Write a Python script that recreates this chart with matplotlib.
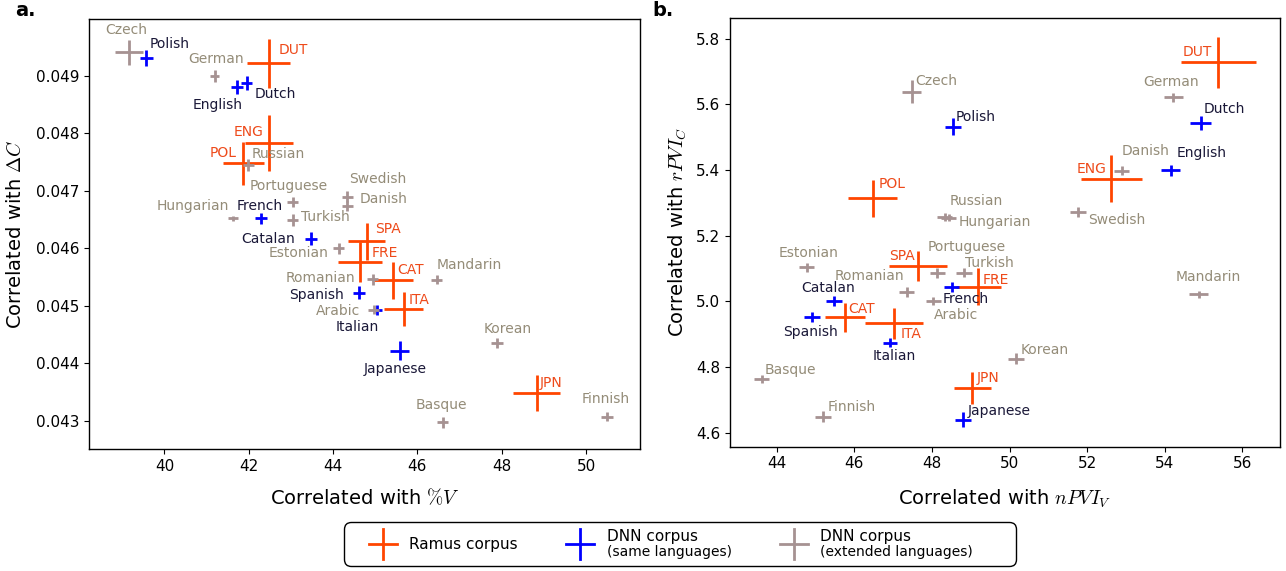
import matplotlib
matplotlib.use("Agg")
import matplotlib.pyplot as plt
from matplotlib.lines import Line2D
from matplotlib.offsetbox import AnchoredOffsetbox, HPacker, VPacker, TextArea, DrawingArea

# --- colours ---
RED = "#ff4500"
BLUE = "#0000ff"
GREY = "#a69292"
RED_TXT = "#ee4a1a"
BLUE_TXT = "#1a1838"
GREY_TXT = "#948c78"

# --- language lists (same order in both panels) ---
ramus_langs = ["DUT", "ENG", "POL", "SPA", "FRE", "CAT", "ITA", "JPN"]
same_langs = ["Polish", "English", "Dutch", "French", "Catalan", "Spanish", "Italian", "Japanese"]
ext_langs = ["Czech", "German", "Russian", "Portuguese", "Swedish", "Danish", "Hungarian",
             "Turkish", "Estonian", "Romanian", "Mandarin", "Arabic", "Korean", "Basque", "Finnish"]

# --- panel a: %V vs delta C ---
a_ramus_x = [42.47, 42.48, 41.87, 44.80, 44.64, 45.43, 45.67, 48.83]
a_ramus_y = [0.04922, 0.04783, 0.04748, 0.04612, 0.04576, 0.04544, 0.04494, 0.04348]
a_ramus_xerr = [0.51, 0.58, 0.49, 0.435, 0.53, 0.47, 0.47, 0.56]
a_ramus_yerr = [0.000426, 0.000493, 0.000377, 0.000328, 0.000348, 0.000322, 0.000296, 0.00032]

a_same_x = [39.57, 41.73, 41.95, 42.29, 43.47, 44.62, 45.05, 45.58]
a_same_y = [0.04931, 0.04881, 0.04888, 0.04652, 0.04617, 0.04523, 0.04493, 0.04422]
a_same_xerr = [0.15, 0.14, 0.13, 0.14, 0.14, 0.14, 0.11, 0.22]
a_same_yerr = [0.00014, 0.00012, 0.00012, 0.0001, 0.00012, 0.00011, 0.00009, 0.00016]

a_ext_x = [39.15, 41.19, 41.99, 43.04, 44.33, 44.33, 41.62, 43.04, 44.13, 44.94, 46.46, 44.96,
           47.89, 46.60, 50.50]
a_ext_y = [0.04941, 0.04900, 0.04745, 0.04681, 0.04690, 0.04674, 0.04652, 0.04649, 0.04600,
           0.04546, 0.04545, 0.04493, 0.04435, 0.04297, 0.04307]
a_ext_xerr = [0.33, 0.11, 0.13, 0.13, 0.13, 0.13, 0.12, 0.13, 0.13, 0.13, 0.13, 0.13, 0.14, 0.13, 0.15]
a_ext_yerr = [0.00022, 0.0001, 0.0001, 0.00009, 0.00009, 0.00009, 0.00004, 0.0001, 0.0001,
              0.0001, 0.00008, 0.00008, 0.00008, 0.0001, 0.00008]

# --- panel b: nPVI_V vs rPVI_C ---
b_ramus_x = [55.38, 52.62, 46.47, 47.64, 49.20, 45.76, 47.02, 49.04]
b_ramus_y = [5.728, 5.374, 5.314, 5.108, 5.045, 4.951, 4.933, 4.735]
b_ramus_xerr = [0.97, 0.78, 0.63, 0.74, 0.59, 0.51, 0.74, 0.48]
b_ramus_yerr = [0.078, 0.072, 0.056, 0.046, 0.055, 0.044, 0.048, 0.049]

b_same_x = [48.54, 54.15, 54.93, 48.51, 45.48, 44.91, 46.92, 48.80]
b_same_y = [5.532, 5.399, 5.544, 5.043, 5.002, 4.952, 4.874, 4.639]
b_same_xerr = [0.2, 0.24, 0.27, 0.19, 0.2, 0.2, 0.18, 0.2]
b_same_yerr = [0.025, 0.017, 0.021, 0.015, 0.015, 0.015, 0.014, 0.023]

b_ext_x = [47.48, 54.22, 48.33, 48.14, 51.76, 52.89, 48.43, 48.83, 44.77, 47.35, 54.87, 48.04,
           50.16, 43.61, 45.20]
b_ext_y = [5.639, 5.622, 5.258, 5.087, 5.273, 5.398, 5.255, 5.087, 5.103, 5.029, 5.021, 5.001,
           4.825, 4.763, 4.648]
b_ext_xerr = [0.24, 0.24, 0.2, 0.2, 0.2, 0.2, 0.2, 0.2, 0.2, 0.2, 0.24, 0.2, 0.2, 0.2, 0.2]
b_ext_yerr = [0.036, 0.014, 0.012, 0.015, 0.015, 0.014, 0.01, 0.014, 0.015, 0.016, 0.01, 0.013,
              0.017, 0.012, 0.017]

# label placement: name -> (dx px, dy px, ha)
a_offsets = {
    "DUT": (10, 13, "left"), "ENG": (-6, 11, "right"), "POL": (-7, 10, "right"),
    "SPA": (8, 12, "left"), "FRE": (12, 9, "left"), "CAT": (4, 10, "left"),
    "ITA": (5, 9, "left"), "JPN": (3, 10, "left"),
    "Polish": (3, 14, "left"), "English": (-20, -18, "center"), "Dutch": (8, -11, "left"),
    "French": (-1, 12, "center"), "Catalan": (-16, 0, "right"), "Spanish": (-15, -2, "right"),
    "Italian": (-20, -17, "center"), "Japanese": (-5, -18, "center"),
    "Czech": (-2, 22, "center"), "German": (1, 17, "center"), "Russian": (3, 11, "left"),
    "Portuguese": (-4, 16, "center"), "Swedish": (2, 18, "left"), "Danish": (13, 7, "left"),
    "Hungarian": (-4, 12, "right"), "Turkish": (8, 3, "left"), "Estonian": (-10, -5, "right"),
    "Romanian": (-17, 1, "right"), "Mandarin": (0, 15, "left"), "Arabic": (-13, -1, "right"),
    "Korean": (11, 14, "center"), "Basque": (-1, 17, "center"), "Finnish": (-1, 18, "center"),
}
b_offsets = {
    "DUT": (-6, 10, "right"), "ENG": (-5, 10, "right"), "POL": (6, 14, "left"),
    "SPA": (-3, 10, "right"), "FRE": (4, 7, "left"), "CAT": (3, 8, "left"),
    "ITA": (7, -11, "left"), "JPN": (4, 10, "left"),
    "Polish": (3, 10, "left"), "English": (6, 17, "left"), "Dutch": (3, 14, "left"),
    "French": (-9, -12, "left"), "Catalan": (-6, 13, "center"), "Spanish": (-1, -15, "center"),
    "Italian": (4, -13, "center"), "Japanese": (5, 9, "left"),
    "Czech": (4, 11, "left"), "German": (-2, 15, "center"), "Russian": (5, 16, "left"),
    "Portuguese": (-10, 26, "left"), "Swedish": (10, -8, "left"), "Danish": (0, 20, "left"),
    "Hungarian": (10, -4, "left"), "Turkish": (1, 10, "left"), "Estonian": (2, 14, "center"),
    "Romanian": (-2, 16, "right"), "Mandarin": (10, 17, "center"), "Arabic": (0, -14, "left"),
    "Korean": (5, 9, "left"), "Basque": (3, 9, "left"), "Finnish": (4, 10, "left"),
}

plt.rcParams["mathtext.fontset"] = "cm"
plt.rcParams["font.family"] = "DejaVu Sans"

fig = plt.figure(figsize=(12.86, 5.71), dpi=100)
ax_a = fig.add_axes([0.0692, 0.2137, 0.4285, 0.7526])
ax_b = fig.add_axes([0.5677, 0.2177, 0.4277, 0.7513])


def draw_group(ax, langs, xs, ys, xerr, yerr, color, txt_color, offsets, lw):
    ax.errorbar(xs, ys, xerr=xerr, yerr=yerr, fmt="none", ecolor=color,
                elinewidth=lw, capsize=0)
    for name, x, y in zip(langs, xs, ys):
        dx, dy, ha = offsets[name]
        ax.annotate(name, (x, y), xytext=(dx, dy), textcoords="offset pixels",
                    ha=ha, va="center", fontsize=10, color=txt_color)


# panel a
draw_group(ax_a, ramus_langs, a_ramus_x, a_ramus_y, a_ramus_xerr, a_ramus_yerr,
           RED, RED_TXT, a_offsets, 2.0)
draw_group(ax_a, same_langs, a_same_x, a_same_y, a_same_xerr, a_same_yerr,
           BLUE, BLUE_TXT, a_offsets, 2.0)
draw_group(ax_a, ext_langs, a_ext_x, a_ext_y, a_ext_xerr, a_ext_yerr,
           GREY, GREY_TXT, a_offsets, 2.0)
ax_a.set_xlim(38.21, 51.28)
ax_a.set_ylim(0.042507, 0.049987)
ax_a.set_xticks([40, 42, 44, 46, 48, 50])
ax_a.set_yticks([0.043, 0.044, 0.045, 0.046, 0.047, 0.048, 0.049])
ax_a.set_xlabel(r"Correlated with $\%V$", fontsize=14, labelpad=10)
ax_a.set_ylabel(r"Correlated with $\Delta C$", fontsize=14, labelpad=8)

# panel b
draw_group(ax_b, ramus_langs, b_ramus_x, b_ramus_y, b_ramus_xerr, b_ramus_yerr,
           RED, RED_TXT, b_offsets, 2.0)
draw_group(ax_b, same_langs, b_same_x, b_same_y, b_same_xerr, b_same_yerr,
           BLUE, BLUE_TXT, b_offsets, 2.0)
draw_group(ax_b, ext_langs, b_ext_x, b_ext_y, b_ext_xerr, b_ext_yerr,
           GREY, GREY_TXT, b_offsets, 2.0)
ax_b.set_xlim(42.8, 56.97)
ax_b.set_ylim(4.557, 5.864)
ax_b.set_xticks([44, 46, 48, 50, 52, 54, 56])
ax_b.set_yticks([4.6, 4.8, 5.0, 5.2, 5.4, 5.6, 5.8])
ax_b.set_xlabel(r"Correlated with $nPVI_V$", fontsize=14, labelpad=12)
ax_b.set_ylabel(r"Correlated with $rPVI_C$", fontsize=14, labelpad=5)

for ax in (ax_a, ax_b):
    ax.tick_params(labelsize=11)
    for sp in ax.spines.values():
        sp.set_linewidth(1.0)

fig.text(15 / 1286, 1 - 16 / 571, "a.", fontsize=14, fontweight="bold", va="baseline")
fig.text(652 / 1286, 1 - 16 / 571, "b.", fontsize=14, fontweight="bold", va="baseline")


# --- legend built from offset boxes (two-line labels with smaller second line) ---
def cross_handle(color):
    da = DrawingArea(20, 22, 0, 0)
    da.add_artist(Line2D([0, 20], [11, 11], color=color, lw=2.0))
    da.add_artist(Line2D([10, 10], [0, 22], color=color, lw=2.0))
    return da


def entry(color, line1, line2=None):
    lines = [TextArea(line1, textprops=dict(fontsize=11))]
    if line2:
        lines.append(TextArea(line2, textprops=dict(fontsize=10)))
    txt = VPacker(children=lines, align="left", pad=0, sep=1)
    return HPacker(children=[cross_handle(color), txt], align="center", pad=0, sep=9)


inner = HPacker(children=[entry(RED, "Ramus corpus"),
                          entry(BLUE, "DNN corpus", "(same languages)"),
                          entry(GREY, "DNN corpus", "(extended languages)")],
                align="center", pad=0, sep=35)
row = HPacker(children=[DrawingArea(13, 1, 0, 0), inner, DrawingArea(26, 1, 0, 0)],
              align="center", pad=0, sep=0)
box = AnchoredOffsetbox(loc="center", child=row, pad=0.45, borderpad=0, frameon=True,
                        bbox_to_anchor=(680 / 1286, 1 - 544 / 571),
                        bbox_transform=fig.transFigure, prop=dict(size=11))
box.patch.set_boxstyle("round", pad=0, rounding_size=0.5)
box.patch.set_edgecolor("black")
box.patch.set_linewidth(1.0)
fig.add_artist(box)

fig.savefig("out.png", dpi=100)
